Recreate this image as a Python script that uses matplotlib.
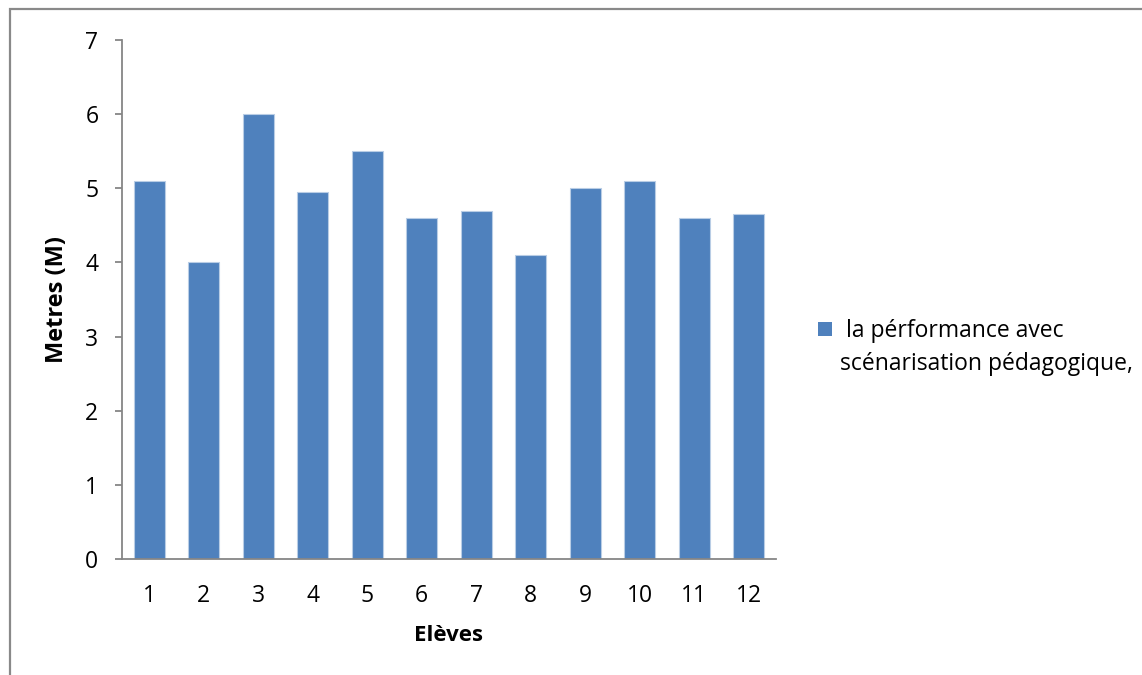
import matplotlib
matplotlib.use("Agg")
from matplotlib import pyplot as plt
from matplotlib.patches import Rectangle

eleves = ["1", "2", "3", "4", "5", "6", "7", "8", "9", "10", "11", "12"]
metres = [5.1, 4.0, 6.0, 4.95, 5.5, 4.6, 4.7, 4.1, 5.0, 5.1, 4.6, 4.65]
serie = ["la pérformance avec", "scénarisation pédagogique,"]

plt.rcParams["font.family"] = ["Open Sans", "DejaVu Sans"]

W, H = 1142, 675
fig = plt.figure(figsize=(W / 100, H / 100), dpi=100)
ax = fig.add_axes([122 / W, 116 / H, 654 / W, 519 / H])

pos = list(range(len(eleves)))
ax.bar(pos, metres, width=0.57, color="#4F81BD", edgecolor="#B9CDE5",
       linewidth=0.8)

ax.set_xlim(-0.5, len(eleves) - 0.5)
ax.set_ylim(0, 7)
ax.set_yticks(range(0, 8))
ax.set_xticks(pos)
ax.set_xticklabels(eleves)

for s in ["top", "right"]:
    ax.spines[s].set_visible(False)
for s in ["left", "bottom"]:
    ax.spines[s].set_color("#868686")
    ax.spines[s].set_linewidth(1.3)

ax.tick_params(axis="y", length=5, width=1.3, color="#868686", pad=12,
               labelsize=16.5)
ax.tick_params(axis="x", length=0, pad=18, labelsize=16.5)

ax.set_ylabel("Metres (M)", fontsize=17, fontweight="bold", labelpad=12)
ax.set_xlabel("Elèves", fontsize=16, fontweight="bold", labelpad=12)

# legend: square key and two-line label
fig.add_artist(Rectangle((818 / W, 1 - 336 / H), 14 / W, 14 / H,
                         transform=fig.transFigure, facecolor="#4F81BD",
                         edgecolor="none"))
fig.text(846 / W, 1 - 337 / H, serie[0], fontsize=16.5, va="baseline")
fig.text(840 / W, 1 - 370 / H, serie[1], fontsize=16.5, va="baseline")

# chart area frame
fig.add_artist(Rectangle((10 / W, -0.1), 1.2, (H - 9) / H + 0.1,
                         transform=fig.transFigure, fill=False,
                         edgecolor="#898989", linewidth=1.6))

fig.savefig("out.png", dpi=100)
